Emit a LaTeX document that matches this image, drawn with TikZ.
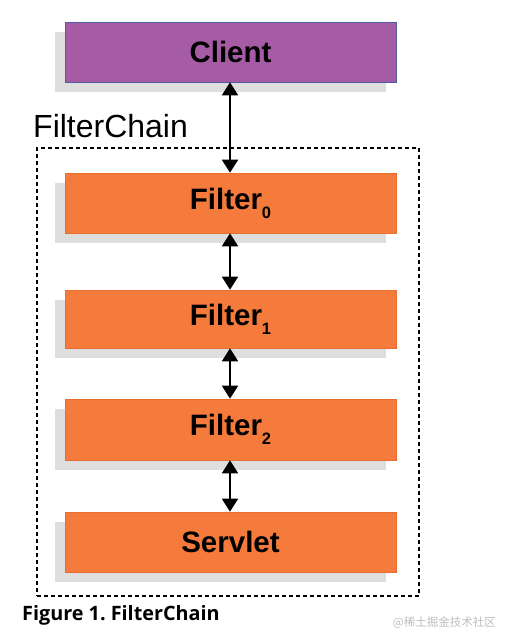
\documentclass[tikz,border=0pt]{standalone}
\usepackage{fontspec}
\setmainfont{Liberation Sans}
\newfontfamily\capfont{Open Sans}
\newfontfamily\cjkfont{Noto Sans CJK SC}
\usetikzlibrary{arrows.meta,shadows}
\frenchspacing
\definecolor{clientfill}{HTML}{A65BA5}
\definecolor{clientline}{HTML}{4E5DA3}
\definecolor{orangefill}{HTML}{F47B3B}
\definecolor{orangeline}{HTML}{E8702F}
\definecolor{shadowgray}{HTML}{DEDEDE}
\definecolor{wmgray}{HTML}{BDBDBD}
\tikzset{
  box/.style={minimum width=331pt, inner sep=0pt, line width=0.6pt,
    font=\fontsize{29.5}{29.5}\selectfont\bfseries,
    drop shadow={shadow xshift=-10pt, shadow yshift=-10pt, fill=shadowgray, opacity=1}},
  clientbox/.style={box, fill=clientfill, draw=clientline},
  orangebox/.style={box, fill=orangefill, draw=orangeline},
  biarrow/.style={line width=1.8pt, {Triangle[width=16pt,length=13pt]}-{Triangle[width=16pt,length=13pt]}},
}
\newcommand{\subn}[1]{\raisebox{-9pt}{\fontsize{16.5}{16.5}\selectfont\bfseries #1}}
\begin{document}
\begin{tikzpicture}[x=1pt,y=-1pt]
\useasboundingbox (0,0) rectangle (513,644);
\node[clientbox, minimum height=60pt] (client) at (230.5,52) {Client};
\node[orangebox, minimum height=60pt] (f0) at (230.5,203) {Filter\subn{0}};
\node[orangebox, minimum height=58pt] (f1) at (230.5,319) {Filter\subn{1}};
\node[orangebox, minimum height=61pt] (f2) at (230.5,429.5) {Filter\subn{2}};
\node[orangebox, minimum height=60pt] (servlet) at (230.5,542) {Servlet};
\node[draw, line width=1.3pt, dash pattern=on 4pt off 3pt, minimum width=382pt, minimum height=448pt] (chain) at (228,372) {};
\node[anchor=base west, inner sep=0pt, font=\fontsize{32}{32}\selectfont] (chainlabel) at (33,138) {FilterChain};
\draw[biarrow] (client.south -| 230,0) -- (f0.north -| 230,0);
\draw[biarrow] (f0.south -| 230,0) -- (f1.north -| 230,0);
\draw[biarrow] (f1.south -| 230,0) -- (f2.north -| 230,0);
\draw[biarrow] (f2.south -| 230,0) -- (servlet.north -| 230,0);
\node[anchor=base west, inner sep=0pt, font=\capfont\fontsize{19.8}{19.8}\selectfont\bfseries] (caption) at (22,620) {Figure 1. FilterChain};
\node[anchor=base east, inner sep=0pt, text=wmgray, font=\cjkfont\fontsize{11.5}{11.5}\selectfont] (wm) at (496,626) {@稀土掘金技术社区};
\end{tikzpicture}
\end{document}
